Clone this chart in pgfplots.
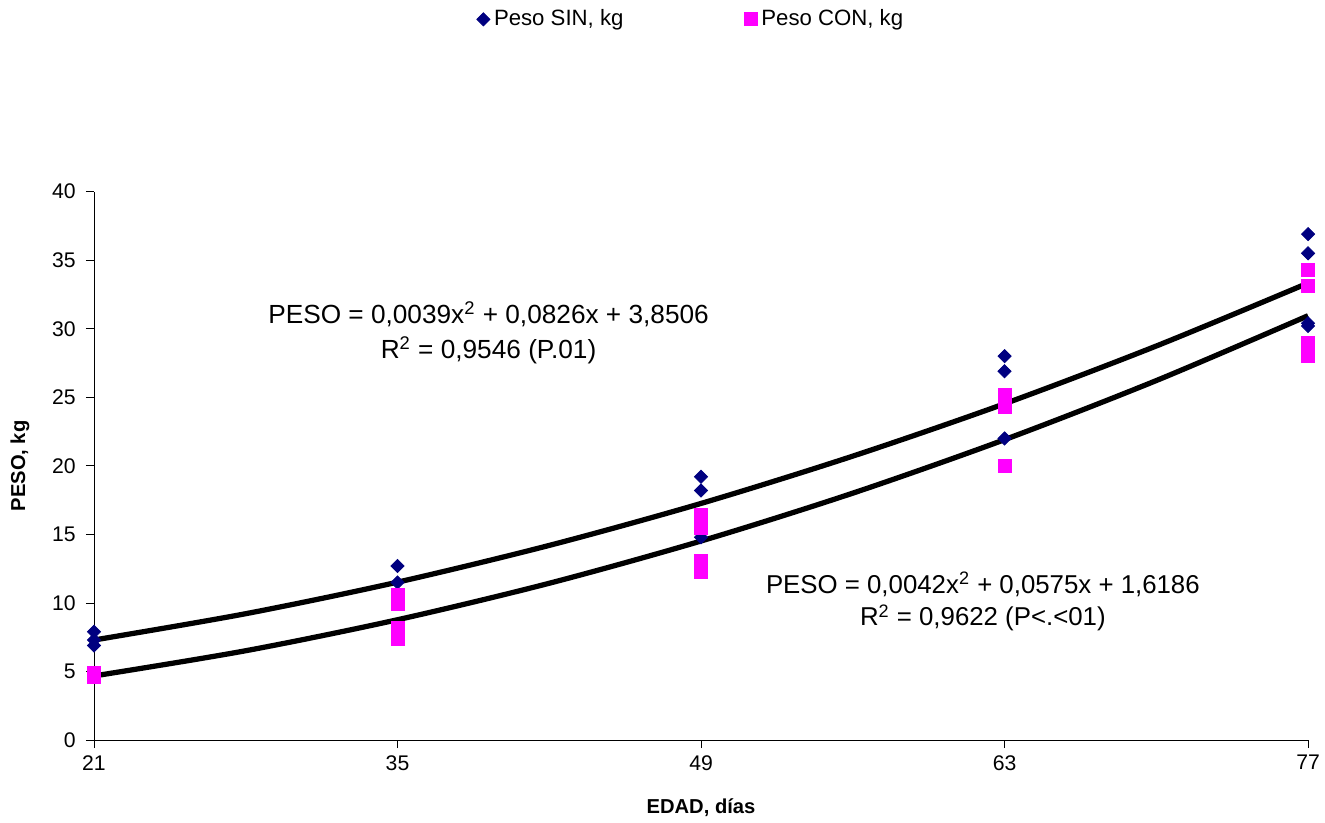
\documentclass[border=0pt]{standalone}
\usepackage{fontspec}
\setmainfont{Liberation Sans}
\usepackage{pgfplots}
\pgfplotsset{compat=1.18}
\definecolor{sinblue}{HTML}{000080}
\definecolor{conpink}{HTML}{FF00FF}
\begin{document}
\begin{tikzpicture}
\begin{axis}[
  scale only axis, width=602pt, height=272pt,
  xmin=21, xmax=77, ymin=0, ymax=40,
  xtick={21,35,49,63,77}, ytick={0,5,...,40},
  axis x line*=bottom, axis y line*=left,
  tick align=outside, tick style={black, thin},
  major tick length=4pt,
  /pgf/number format/assume math mode=true,
  tick label style={font=\fontsize{10.5}{12}\selectfont},
  yticklabel style={xshift=-1.5pt},
  xlabel={\textbf{EDAD, días}}, ylabel={\textbf{PESO, kg}},
  xlabel style={at={(axis description cs:0.5,-0.124)}, anchor=center},
  ylabel style={at={(axis description cs:-0.061,0.5)}, anchor=center},
  clip=false,
  legend style={at={(0.4926,1.314)}, anchor=center, draw=none, legend columns=2,
    /tikz/every even column/.append style={column sep=58pt},
    font=\fontsize{11}{12}\selectfont, inner sep=0pt},
  legend image code/.code={\draw[mark repeat=2,mark phase=2] plot coordinates {(0cm,0cm) (0.12cm,0cm) (0.24cm,0cm)};},
]
\addplot[only marks, mark=square*, mark size=2.3pt, mark options={rotate=45}, color=sinblue] coordinates {
(21,7.9) (21,7.3) (21,6.9)
(35,12.7) (35,11.5)
(49,19.2) (49,18.2) (49,14.8)
(63,28.0) (63,26.9) (63,22.0)
(77,36.9) (77,35.5) (77,30.4) (77,30.2)
};
\addplot[only marks, mark=square*, mark size=3.2pt, color=conpink] coordinates {
(21,4.6) (21,4.8) (21,4.9)
(35,10.6) (35,9.9) (35,8.2) (35,7.4)
(49,16.4) (49,15.5) (49,13.1) (49,12.3)
(63,25.2) (63,24.3) (63,20.0)
(77,34.3) (77,33.1) (77,29.0) (77,28.0)
};
\legend{{Peso SIN, kg}, {Peso CON, kg}}
\addplot[black, line width=2.6pt, smooth, forget plot] coordinates {
(21,7.30) (28,9.22) (35,11.52) (42,14.20) (49,17.26) (56,20.71) (63,24.53) (70,28.74) (77,33.33)
};
\addplot[black, line width=2.6pt, smooth, forget plot] coordinates {
(21,4.68) (28,6.52) (35,8.78) (42,11.44) (49,14.52) (56,18.01) (63,21.91) (70,26.22) (77,30.95)
};
\node[align=center, font=\fontsize{13}{17}\selectfont] at (axis cs:39.2,29.7)
  {PESO = 0,0039x\textsuperscript{2} + 0,0826x + 3,8506\\R\textsuperscript{2} = 0,9546 (P.01)};
\node[align=center, font=\fontsize{12.8}{16}\selectfont] at (axis cs:62.0,10.1)
  {PESO = 0,0042x\textsuperscript{2} + 0,0575x + 1,6186\\R\textsuperscript{2} = 0,9622 (P<.<01)};
\end{axis}
\pgfresetboundingbox
\path ([shift={(-46.6pt,-41pt)}]current axis.south west) rectangle ([shift={(8.4pt,95pt)}]current axis.north east);
\end{tikzpicture}
\end{document}
